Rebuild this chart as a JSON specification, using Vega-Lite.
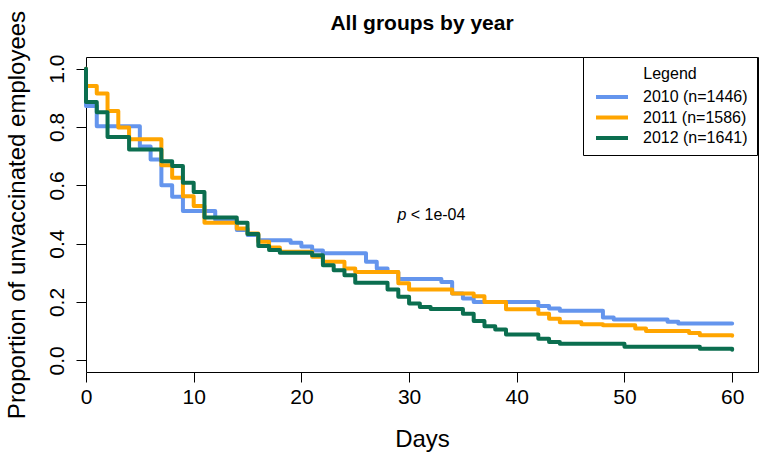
{
  "$schema": "https://vega.github.io/schema/vega-lite/v6.json",
  "autosize": "none",
  "width": 672,
  "height": 315,
  "padding": {"left": 86, "top": 57, "right": 6, "bottom": 86},
  "background": "white",
  "title": {"text": "All groups by year", "fontSize": 21, "fontWeight": "bold", "color": "black", "anchor": "middle", "baseline": "alphabetic", "offset": -41},
  "layer": [
    {
      "data": {"values": [
      {"group": "2010 (n=1446)", "day": 0, "surv": 1},
      {"group": "2010 (n=1446)", "day": 0, "surv": 0.872},
      {"group": "2010 (n=1446)", "day": 1, "surv": 0.803},
      {"group": "2010 (n=1446)", "day": 5, "surv": 0.733},
      {"group": "2010 (n=1446)", "day": 6, "surv": 0.689},
      {"group": "2010 (n=1446)", "day": 7, "surv": 0.600},
      {"group": "2010 (n=1446)", "day": 8, "surv": 0.561},
      {"group": "2010 (n=1446)", "day": 9, "surv": 0.512},
      {"group": "2010 (n=1446)", "day": 12, "surv": 0.481},
      {"group": "2010 (n=1446)", "day": 14, "surv": 0.447},
      {"group": "2010 (n=1446)", "day": 15, "surv": 0.430},
      {"group": "2010 (n=1446)", "day": 16, "surv": 0.412},
      {"group": "2010 (n=1446)", "day": 19, "surv": 0.403},
      {"group": "2010 (n=1446)", "day": 20, "surv": 0.390},
      {"group": "2010 (n=1446)", "day": 21, "surv": 0.377},
      {"group": "2010 (n=1446)", "day": 22, "surv": 0.367},
      {"group": "2010 (n=1446)", "day": 26, "surv": 0.338},
      {"group": "2010 (n=1446)", "day": 27, "surv": 0.315},
      {"group": "2010 (n=1446)", "day": 28, "surv": 0.303},
      {"group": "2010 (n=1446)", "day": 29, "surv": 0.279},
      {"group": "2010 (n=1446)", "day": 33, "surv": 0.269},
      {"group": "2010 (n=1446)", "day": 34, "surv": 0.229},
      {"group": "2010 (n=1446)", "day": 35, "surv": 0.212},
      {"group": "2010 (n=1446)", "day": 36, "surv": 0.200},
      {"group": "2010 (n=1446)", "day": 42, "surv": 0.186},
      {"group": "2010 (n=1446)", "day": 43, "surv": 0.178},
      {"group": "2010 (n=1446)", "day": 44, "surv": 0.170},
      {"group": "2010 (n=1446)", "day": 48, "surv": 0.147},
      {"group": "2010 (n=1446)", "day": 49, "surv": 0.140},
      {"group": "2010 (n=1446)", "day": 54, "surv": 0.132},
      {"group": "2010 (n=1446)", "day": 55, "surv": 0.126},
      {"group": "2010 (n=1446)", "day": 60, "surv": 0.126},
      {"group": "2011 (n=1586)", "day": 0, "surv": 1},
      {"group": "2011 (n=1586)", "day": 0, "surv": 0.941},
      {"group": "2011 (n=1586)", "day": 1, "surv": 0.915},
      {"group": "2011 (n=1586)", "day": 2, "surv": 0.855},
      {"group": "2011 (n=1586)", "day": 3, "surv": 0.798},
      {"group": "2011 (n=1586)", "day": 4, "surv": 0.758},
      {"group": "2011 (n=1586)", "day": 7, "surv": 0.669},
      {"group": "2011 (n=1586)", "day": 8, "surv": 0.626},
      {"group": "2011 (n=1586)", "day": 9, "surv": 0.563},
      {"group": "2011 (n=1586)", "day": 10, "surv": 0.529},
      {"group": "2011 (n=1586)", "day": 11, "surv": 0.472},
      {"group": "2011 (n=1586)", "day": 14, "surv": 0.452},
      {"group": "2011 (n=1586)", "day": 15, "surv": 0.435},
      {"group": "2011 (n=1586)", "day": 16, "surv": 0.407},
      {"group": "2011 (n=1586)", "day": 17, "surv": 0.387},
      {"group": "2011 (n=1586)", "day": 18, "surv": 0.372},
      {"group": "2011 (n=1586)", "day": 21, "surv": 0.355},
      {"group": "2011 (n=1586)", "day": 22, "surv": 0.338},
      {"group": "2011 (n=1586)", "day": 24, "surv": 0.315},
      {"group": "2011 (n=1586)", "day": 25, "surv": 0.303},
      {"group": "2011 (n=1586)", "day": 29, "surv": 0.264},
      {"group": "2011 (n=1586)", "day": 30, "surv": 0.243},
      {"group": "2011 (n=1586)", "day": 34, "surv": 0.229},
      {"group": "2011 (n=1586)", "day": 36, "surv": 0.220},
      {"group": "2011 (n=1586)", "day": 37, "surv": 0.200},
      {"group": "2011 (n=1586)", "day": 39, "surv": 0.175},
      {"group": "2011 (n=1586)", "day": 42, "surv": 0.160},
      {"group": "2011 (n=1586)", "day": 43, "surv": 0.143},
      {"group": "2011 (n=1586)", "day": 44, "surv": 0.131},
      {"group": "2011 (n=1586)", "day": 46, "surv": 0.124},
      {"group": "2011 (n=1586)", "day": 48, "surv": 0.120},
      {"group": "2011 (n=1586)", "day": 51, "surv": 0.109},
      {"group": "2011 (n=1586)", "day": 52, "surv": 0.101},
      {"group": "2011 (n=1586)", "day": 56, "surv": 0.094},
      {"group": "2011 (n=1586)", "day": 57, "surv": 0.086},
      {"group": "2011 (n=1586)", "day": 60, "surv": 0.084},
      {"group": "2012 (n=1641)", "day": 0, "surv": 1},
      {"group": "2012 (n=1641)", "day": 0, "surv": 0.886},
      {"group": "2012 (n=1641)", "day": 1, "surv": 0.851},
      {"group": "2012 (n=1641)", "day": 2, "surv": 0.766},
      {"group": "2012 (n=1641)", "day": 4, "surv": 0.723},
      {"group": "2012 (n=1641)", "day": 7, "surv": 0.683},
      {"group": "2012 (n=1641)", "day": 8, "surv": 0.666},
      {"group": "2012 (n=1641)", "day": 9, "surv": 0.609},
      {"group": "2012 (n=1641)", "day": 10, "surv": 0.577},
      {"group": "2012 (n=1641)", "day": 11, "surv": 0.490},
      {"group": "2012 (n=1641)", "day": 14, "surv": 0.472},
      {"group": "2012 (n=1641)", "day": 15, "surv": 0.433},
      {"group": "2012 (n=1641)", "day": 16, "surv": 0.392},
      {"group": "2012 (n=1641)", "day": 17, "surv": 0.378},
      {"group": "2012 (n=1641)", "day": 18, "surv": 0.369},
      {"group": "2012 (n=1641)", "day": 21, "surv": 0.360},
      {"group": "2012 (n=1641)", "day": 22, "surv": 0.326},
      {"group": "2012 (n=1641)", "day": 23, "surv": 0.309},
      {"group": "2012 (n=1641)", "day": 24, "surv": 0.292},
      {"group": "2012 (n=1641)", "day": 25, "surv": 0.266},
      {"group": "2012 (n=1641)", "day": 28, "surv": 0.243},
      {"group": "2012 (n=1641)", "day": 29, "surv": 0.218},
      {"group": "2012 (n=1641)", "day": 30, "surv": 0.195},
      {"group": "2012 (n=1641)", "day": 31, "surv": 0.183},
      {"group": "2012 (n=1641)", "day": 32, "surv": 0.176},
      {"group": "2012 (n=1641)", "day": 35, "surv": 0.160},
      {"group": "2012 (n=1641)", "day": 36, "surv": 0.135},
      {"group": "2012 (n=1641)", "day": 37, "surv": 0.117},
      {"group": "2012 (n=1641)", "day": 38, "surv": 0.106},
      {"group": "2012 (n=1641)", "day": 39, "surv": 0.089},
      {"group": "2012 (n=1641)", "day": 42, "surv": 0.074},
      {"group": "2012 (n=1641)", "day": 43, "surv": 0.063},
      {"group": "2012 (n=1641)", "day": 44, "surv": 0.057},
      {"group": "2012 (n=1641)", "day": 50, "surv": 0.047},
      {"group": "2012 (n=1641)", "day": 57, "surv": 0.040},
      {"group": "2012 (n=1641)", "day": 60, "surv": 0.036}
      ]},
      "mark": {"type": "line", "interpolate": "step-after", "strokeWidth": 4, "strokeCap": "round", "strokeJoin": "round"},
      "encoding": {
        "x": {
          "field": "day", "type": "quantitative",
          "scale": {"domain": [0, 62.4], "nice": false, "zero": false},
          "axis": {
            "values": [0, 10, 20, 30, 40, 50, 60], "format": "d",
            "title": "Days", "titleFontSize": 24, "titleFontWeight": "normal", "titleColor": "black",
            "titleY": 74, "titleBaseline": "alphabetic",
            "labelFontSize": 21, "labelColor": "black", "labelPadding": 4, "labelFlush": false, "labelOverlap": false,
            "tickColor": "black", "tickSize": 10, "domain": false, "grid": false
          }
        },
        "y": {
          "field": "surv", "type": "quantitative",
          "scale": {"domain": [-0.04, 1.04], "nice": false, "zero": false},
          "axis": {
            "values": [0, 0.2, 0.4, 0.6, 0.8, 1.0], "format": ".1f",
            "title": "Proportion of unvaccinated employees", "titleFontSize": 24, "titleFontWeight": "normal", "titleColor": "black",
            "titleAngle": -90, "titleAlign": "center", "titleBaseline": "alphabetic", "titleX": -62, "titleY": 157.5,
            "labelFontSize": 21, "labelColor": "black", "labelAngle": -90, "labelAlign": "center", "labelBaseline": "bottom", "labelPadding": 9, "labelFlush": false, "labelOverlap": false,
            "tickColor": "black", "tickSize": 10, "domain": false, "grid": false
          }
        },
        "color": {
          "field": "group", "type": "nominal",
          "scale": {"domain": ["2010 (n=1446)", "2011 (n=1586)", "2012 (n=1641)"], "range": ["#6495ED", "#FFA500", "#0B6E4F"]},
          "legend": {
            "orient": "none", "legendX": 497, "legendY": 0, "direction": "vertical",
            "title": "Legend", "titleFontSize": 16, "titleFontWeight": "normal", "titleColor": "black", "titleAnchor": "middle", "titlePadding": 5,
            "labelFontSize": 16, "labelColor": "black", "labelOffset": 31,
            "symbolType": "M-0.75,0H3.25", "symbolStrokeWidth": 4, "symbolSize": 256,
            "strokeColor": "black", "fillColor": "white", "padding": 9, "rowPadding": 2.5
          }
        }
      }
    },
    {
      "data": {"values": [{"t": "p"}]},
      "mark": {"type": "text", "text": "p", "fontStyle": "italic", "fontSize": 16, "align": "right", "baseline": "middle", "color": "black"},
      "encoding": {"x": {"datum": 29.75}, "y": {"datum": 0.5}}
    },
    {
      "data": {"values": [{"t": "rest"}]},
      "mark": {"type": "text", "text": "< 1e-04", "fontSize": 16, "align": "left", "baseline": "middle", "color": "black"},
      "encoding": {"x": {"datum": 30.15}, "y": {"datum": 0.5}}
    }
  ],
  "config": {
    "font": "Liberation Sans",
    "view": {"stroke": "black", "strokeWidth": 1}
  }
}
